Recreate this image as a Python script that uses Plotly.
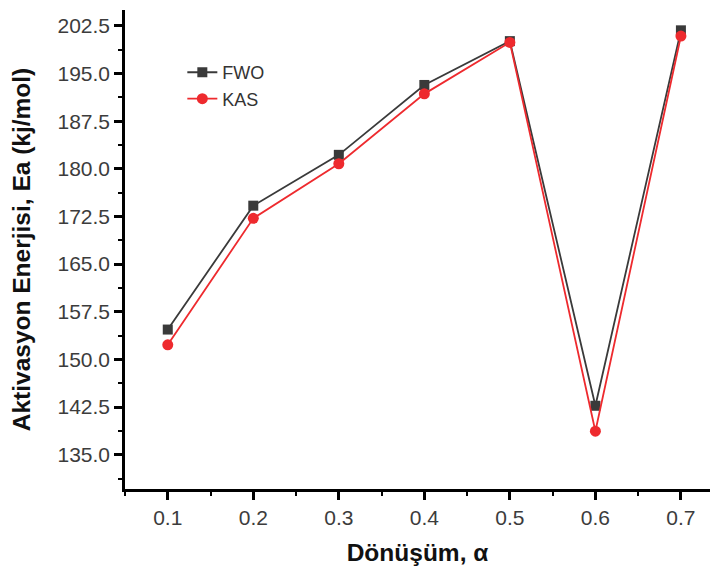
import plotly.graph_objects as go

# Conversion degree and activation energies (kJ/mol) from two isoconversional methods
alpha = [0.1, 0.2, 0.3, 0.4, 0.5, 0.6, 0.7]
ea_fwo = [154.7, 174.2, 182.2, 193.2, 200.1, 142.7, 201.8]
ea_kas = [152.3, 172.2, 180.8, 191.8, 199.9, 138.7, 200.9]

y_ticks = [135.0, 142.5, 150.0, 157.5, 165.0, 172.5, 180.0, 187.5, 195.0, 202.5]
x_ticks = [0.1, 0.2, 0.3, 0.4, 0.5, 0.6, 0.7]

fig = go.Figure()
fig.add_trace(go.Scatter(
    x=alpha, y=ea_fwo, name="FWO", mode="lines+markers",
    line=dict(color="#3a3a3a", width=1.8),
    marker=dict(symbol="square", size=10, color="#3a3a3a"),
))
fig.add_trace(go.Scatter(
    x=alpha, y=ea_kas, name="KAS", mode="lines+markers",
    line=dict(color="#ee2a2e", width=1.8),
    marker=dict(symbol="circle", size=11, color="#ee2a2e"),
))

axis_font = dict(family="Liberation Sans, Arial, sans-serif", size=21, color="#3c3c3c")
title_font = dict(family="Liberation Sans, Arial, sans-serif", size=24.5, color="#111111")

fig.update_layout(
    width=710, height=569,
    margin=dict(l=125, r=0, t=10, b=80),
    paper_bgcolor="white", plot_bgcolor="white",
    showlegend=True,
    legend=dict(
        x=0.098, y=0.908, xanchor="left", yanchor="top",
        bgcolor="rgba(0,0,0,0)",
        font=dict(family="Liberation Sans, Arial, sans-serif", size=18, color="#333333"),
        tracegroupgap=0, itemwidth=30,
    ),
    xaxis=dict(
        range=[0.05, 0.734], tickvals=x_ticks, ticktext=[f"{v:.1f}" for v in x_ticks],
        showgrid=False, zeroline=False,
        showline=True, linecolor="black", linewidth=2.5,
        ticks="outside", ticklen=8, tickwidth=2.5, tickcolor="black",
        minor=dict(ticks="outside", ticklen=4, tickwidth=2, tickcolor="black", dtick=0.05, tick0=0.05),
        tickfont=axis_font,
        title=dict(text="<b>Dönüşüm, α</b>", font=title_font, standoff=16),
    ),
    yaxis=dict(
        range=[129.6, 205.0], tickvals=y_ticks, ticktext=[f"{v:.1f}" for v in y_ticks],
        showgrid=False, zeroline=False,
        showline=True, linecolor="black", linewidth=2.5,
        ticks="outside", ticklen=8, tickwidth=2.5, tickcolor="black",
        minor=dict(ticks="outside", ticklen=4, tickwidth=2, tickcolor="black", dtick=3.75, tick0=131.25),
        tickfont=axis_font,
        title=dict(text="<b>Aktivasyon Enerjisi, Ea (kj/mol)</b>", font=title_font, standoff=20),
    ),
)

fig.write_html("out.html")
